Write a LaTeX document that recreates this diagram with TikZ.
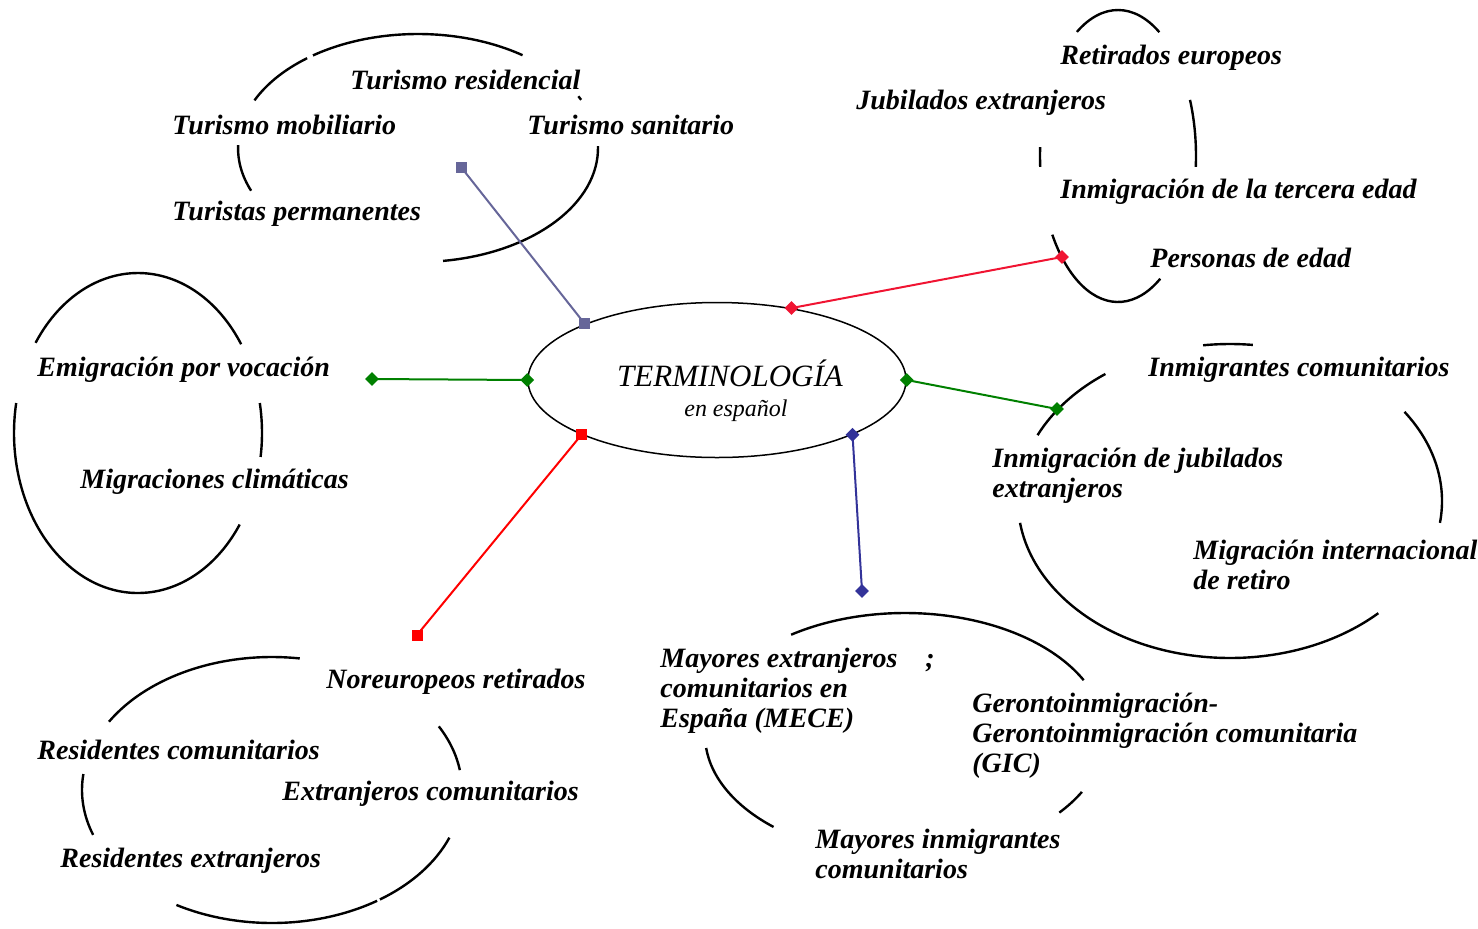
\documentclass[tikz,border=0pt]{standalone}
\usepackage{fontspec}
\setmainfont{Liberation Serif}
\usetikzlibrary{shapes.geometric}
\definecolor{violeta}{RGB}{102,102,153}
\definecolor{rojo}{RGB}{240,20,50}
\definecolor{rojob}{RGB}{255,0,0}
\definecolor{verde}{RGB}{0,128,0}
\definecolor{azul}{RGB}{51,51,153}

\begin{document}
\begin{tikzpicture}[x=0.5pt,y=0.5pt,yscale=-1,
  nube/.style={line width=1.2pt},
  etiqueta/.style={inner xsep=5pt,inner ysep=4pt,anchor=west,align=left,
    font=\fontsize{14}{15}\selectfont\bfseries\itshape},
  enlace/.style={line width=1pt},
  cuadro/.style={rectangle,fill,inner sep=0pt,minimum size=5.5pt},
  rombo/.style={diamond,fill,inner sep=0pt,minimum size=7pt}]
\useasboundingbox (0,0) rectangle (1478,928);

%Shape: Arc [turismo]
\draw [nube] (418,148) ++(204.7:90pt and 57pt) arc [start angle=204.7,end angle=232,x radius=90pt,y radius=57pt];
\draw [nube] (418,148) ++(234.3:90pt and 57pt) arc [start angle=234.3,end angle=305.5,x radius=90pt,y radius=57pt];
\draw [nube] (418,148) ++(333:90pt and 57pt) arc [start angle=333,end angle=335,x radius=90pt,y radius=57pt];
\draw [nube] (418,148) ++(-1:90pt and 57pt) arc [start angle=-1,end angle=82,x radius=90pt,y radius=57pt];
\draw [nube] (418,148) ++(158:90pt and 57pt) arc [start angle=158,end angle=181.5,x radius=90pt,y radius=57pt];
%Shape: Arc [retirados]
\draw [nube] (1118,156) ++(238.2:39pt and 73pt) arc [start angle=238.2,end angle=302,x radius=39pt,y radius=73pt];
\draw [nube] (1118,156) ++(-22.6:39pt and 73pt) arc [start angle=-22.6,end angle=4.3,x radius=39pt,y radius=73pt];
\draw [nube] (1118,156) ++(175.7:39pt and 73pt) arc [start angle=175.7,end angle=183.5,x radius=39pt,y radius=73pt];
\draw [nube] (1118,156) ++(57.2:39pt and 73pt) arc [start angle=57.2,end angle=147.4,x radius=39pt,y radius=73pt];
%Shape: Arc [emigracion]
\draw [nube] (138,433) ++(214.3:62pt and 80pt) arc [start angle=214.3,end angle=326.3,x radius=62pt,y radius=80pt];
\draw [nube] (138,433) ++(34.9:62pt and 80pt) arc [start angle=34.9,end angle=190.8,x radius=62pt,y radius=80pt];
\draw [nube] (138,433) ++(-10.8:62pt and 80pt) arc [start angle=-10.8,end angle=8.6,x radius=62pt,y radius=80pt];
%Shape: Arc [inmigrantes]
\draw [nube] (1230,501) ++(262.7:106pt and 78.5pt) arc [start angle=262.7,end angle=276.2,x radius=106pt,y radius=78.5pt];
\draw [nube] (1230,501) ++(204.8:106pt and 78.5pt) arc [start angle=204.8,end angle=234,x radius=106pt,y radius=78.5pt];
\draw [nube] (1230,501) ++(-34.6:106pt and 78.5pt) arc [start angle=-34.6,end angle=8,x radius=106pt,y radius=78.5pt];
\draw [nube] (1230,501) ++(45.6:106pt and 78.5pt) arc [start angle=45.6,end angle=172,x radius=106pt,y radius=78.5pt];
%Shape: Arc [mayores]
\draw [nube] (905,735) ++(235.3:100pt and 61pt) arc [start angle=235.3,end angle=333.3,x radius=100pt,y radius=61pt];
\draw [nube] (905,735) ++(131.1:100pt and 61pt) arc [start angle=131.1,end angle=173.9,x radius=100pt,y radius=61pt];
\draw [nube] (905,735) ++(27.8:100pt and 61pt) arc [start angle=27.8,end angle=39.5,x radius=100pt,y radius=61pt];
%Shape: Arc [residentes]
\draw [nube] (272,790) ++(210.9:95pt and 66.5pt) arc [start angle=210.9,end angle=278.4,x radius=95pt,y radius=66.5pt];
\draw [nube] (272,790) ++(331.4:95pt and 66.5pt) arc [start angle=331.4,end angle=351.4,x radius=95pt,y radius=66.5pt];
\draw [nube] (272,790) ++(160.3:95pt and 66.5pt) arc [start angle=160.3,end angle=186.9,x radius=95pt,y radius=66.5pt];
\draw [nube] (272,790) ++(56.4:95pt and 66.5pt) arc [start angle=56.4,end angle=120.2,x radius=95pt,y radius=66.5pt];
\draw [nube] (272,790) ++(21:95pt and 66.5pt) arc [start angle=21,end angle=55.4,x radius=95pt,y radius=66.5pt];

% Text Node
\node [etiqueta] (turres) at (340,80) {Turismo residencial};
% Text Node
\node [etiqueta] (turmob) at (162,125) {Turismo mobiliario};
% Text Node
\node [etiqueta] (tursan) at (517,125) {Turismo sanitario};
% Text Node
\node [etiqueta] (turper) at (162,214) {Turistas permanentes};
% Text Node
\node [etiqueta] (reteur) at (1050,58) {Retirados europeos};
% Text Node
\node [etiqueta] (jubext) at (846,103) {Jubilados extranjeros};
% Text Node
\node [etiqueta] (inmter) at (1050,192) {Inmigración de la tercera edad};
% Text Node
\node [etiqueta] (peredad) at (1140,258) {Personas de edad};
% Text Node
\node [etiqueta] (emivoc) at (27,370) {Emigración por vocación};
% Text Node
\node [etiqueta] (migcli) at (70,482) {Migraciones climáticas};
% Text Node
\node [etiqueta] (inmcom) at (1138,370) {Inmigrantes comunitarios};
% Text Node
\node [etiqueta] (inmjub) at (982,476) {Inmigración de jubilados\\extranjeros};
% Text Node
\node [etiqueta] (migint) at (1183,565) {Migración internacional\\de retiro};
% Text Node
\node [etiqueta] (mece) at (650,691) {Mayores extranjeros\\comunitarios en\\España (MECE)};
% Text Node
\node [font=\fontsize{14}{15}\selectfont\bfseries\itshape,inner sep=0pt] (punto) at (930,663) {;};
% Text Node
\node [etiqueta] (gic) at (962,736) {Gerontoinmigración-\\Gerontoinmigración comunitaria\\(GIC)};
% Text Node
\node [etiqueta] (mayinm) at (805,854) {Mayores inmigrantes\\comunitarios};
% Text Node
\node [etiqueta] (norret) at (316,682) {Noreuropeos retirados};
% Text Node
\node [etiqueta] (rescom) at (27,750) {Residentes comunitarios};
% Text Node
\node [etiqueta] (extcom) at (272,794) {Extranjeros comunitarios};
% Text Node
\node [etiqueta] (resext) at (50,861) {Residentes extranjeros};

%Shape: Ellipse [centro]
\node [draw,ellipse,line width=0.75pt,fill=white,inner sep=0pt,
  minimum width=189pt,minimum height=77.5pt] (term) at (717,380) {};
% Text Node
\node [align=center,inner sep=0pt,font=\fontsize{15.5}{15}\selectfont\itshape] (termtxt) at (730,391)
  {TERMINOLOGÍA\\\hspace*{6pt}{\fontsize{12}{15}\selectfont en español}};

%Straight Lines [turismo]
\node [cuadro,violeta] (turA) at (term.157) {};
\node [cuadro,violeta] (turB) at (461,167) {};
\draw [enlace,violeta] (turA.center) -- (turB.center);
%Straight Lines [retirados]
\node [rombo,rojo] (retA) at (term.44) {};
\node [rombo,rojo] (retB) at (1062,257) {};
\draw [enlace,rojo] (retA.center) -- (retB.center);
%Straight Lines [emigracion]
\node [rombo,verde] (emiA) at (term.180) {};
\node [rombo,verde] (emiB) at (372,379) {};
\draw [enlace,verde] (emiA.center) -- (emiB.center);
%Straight Lines [inmigrantes]
\node [rombo,verde] (inmA) at (term.0) {};
\node [rombo,verde] (inmB) at (1057,409) {};
\draw [enlace,verde] (inmA.center) -- (inmB.center);
%Straight Lines [residentes]
\node [cuadro,rojob] (resA) at (term.202) {};
\node [cuadro,rojob] (resB) at (417,635) {};
\draw [enlace,rojob] (resA.center) -- (resB.center);
%Straight Lines [mayores]
\node [rombo,azul] (mayA) at (term.338) {};
\node [rombo,azul] (mayB) at (862,591) {};
\draw [enlace,azul] (mayA.center) -- (mayB.center);

\end{tikzpicture}
\end{document}
